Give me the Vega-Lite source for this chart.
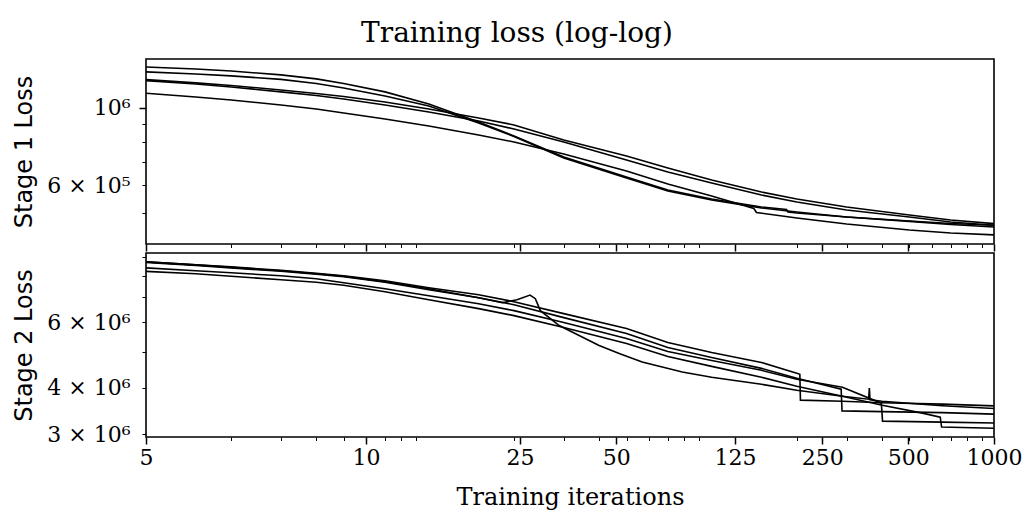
{
  "$schema": "https://vega.github.io/schema/vega-lite/v6.json",
  "background": "white",
  "padding": {"left": 11, "top": 20, "right": 5, "bottom": 5},
  "title": {
    "text": "Training loss (log-log)",
    "font": "DejaVu Serif",
    "fontSize": 28,
    "fontWeight": "normal",
    "color": "black",
    "anchor": "middle",
    "frame": "bounds",
    "offset": 10
  },
  "config": {
    "view": {"stroke": "black", "strokeWidth": 1.6},
    "axis": {
      "domain": false,
      "grid": false,
      "labelFont": "DejaVu Serif",
      "labelFontSize": 22,
      "labelColor": "black",
      "labelPadding": 3,
      "labelOverlap": false,
      "labelFlush": false,
      "tickColor": "black",
      "titleColor": "black",
      "titleFontWeight": "normal"
    }
  },
  "bounds": "flush",
  "spacing": 9,
  "datasets": {
    "stage1": [
      {"run": "a", "iter": 1, "loss": 1311000}, {"run": "a", "iter": 1.5, "loss": 1294000}, {"run": "a", "iter": 2, "loss": 1277000},
      {"run": "a", "iter": 3, "loss": 1244000}, {"run": "a", "iter": 4, "loss": 1212000}, {"run": "a", "iter": 5, "loss": 1176000},
      {"run": "a", "iter": 7, "loss": 1112000}, {"run": "a", "iter": 10, "loss": 1027000}, {"run": "a", "iter": 15, "loss": 911800},
      {"run": "a", "iter": 20, "loss": 831100}, {"run": "a", "iter": 30, "loss": 723100}, {"run": "a", "iter": 50, "loss": 634000},
      {"run": "a", "iter": 70, "loss": 581500}, {"run": "a", "iter": 100, "loss": 548000}, {"run": "a", "iter": 150, "loss": 519900},
      {"run": "a", "iter": 184, "loss": 511300}, {"run": "a", "iter": 186, "loss": 503000}, {"run": "a", "iter": 200, "loss": 499700},
      {"run": "a", "iter": 300, "loss": 486700}, {"run": "a", "iter": 500, "loss": 472500}, {"run": "a", "iter": 700, "loss": 463200},
      {"run": "a", "iter": 996, "loss": 455600},

      {"run": "b", "iter": 1, "loss": 1269000}, {"run": "b", "iter": 1.5, "loss": 1252000}, {"run": "b", "iter": 2, "loss": 1236000},
      {"run": "b", "iter": 3, "loss": 1208000}, {"run": "b", "iter": 4, "loss": 1176000}, {"run": "b", "iter": 5, "loss": 1141000},
      {"run": "b", "iter": 7, "loss": 1082500}, {"run": "b", "iter": 10, "loss": 1013300}, {"run": "b", "iter": 15, "loss": 905800},
      {"run": "b", "iter": 20, "loss": 828300}, {"run": "b", "iter": 30, "loss": 718400}, {"run": "b", "iter": 50, "loss": 629800},
      {"run": "b", "iter": 70, "loss": 577700}, {"run": "b", "iter": 100, "loss": 544400}, {"run": "b", "iter": 150, "loss": 516500},
      {"run": "b", "iter": 200, "loss": 503000}, {"run": "b", "iter": 300, "loss": 486700}, {"run": "b", "iter": 500, "loss": 474000},
      {"run": "b", "iter": 700, "loss": 466200}, {"run": "b", "iter": 996, "loss": 460700},

      {"run": "c", "iter": 1, "loss": 1206000}, {"run": "c", "iter": 1.5, "loss": 1180000}, {"run": "c", "iter": 2, "loss": 1160000},
      {"run": "c", "iter": 3, "loss": 1126000}, {"run": "c", "iter": 4, "loss": 1100600}, {"run": "c", "iter": 5, "loss": 1078900},
      {"run": "c", "iter": 7, "loss": 1040500}, {"run": "c", "iter": 10, "loss": 993400}, {"run": "c", "iter": 15, "loss": 936100},
      {"run": "c", "iter": 20, "loss": 893900}, {"run": "c", "iter": 30, "loss": 809300}, {"run": "c", "iter": 50, "loss": 727900},
      {"run": "c", "iter": 70, "loss": 672500}, {"run": "c", "iter": 100, "loss": 621600}, {"run": "c", "iter": 150, "loss": 573900},
      {"run": "c", "iter": 200, "loss": 548000}, {"run": "c", "iter": 300, "loss": 519900}, {"run": "c", "iter": 500, "loss": 493100},
      {"run": "c", "iter": 700, "loss": 477100}, {"run": "c", "iter": 996, "loss": 465600},

      {"run": "d", "iter": 1, "loss": 1198000}, {"run": "d", "iter": 1.5, "loss": 1172000}, {"run": "d", "iter": 2, "loss": 1149000},
      {"run": "d", "iter": 3, "loss": 1112000}, {"run": "d", "iter": 4, "loss": 1086000}, {"run": "d", "iter": 5, "loss": 1061000},
      {"run": "d", "iter": 7, "loss": 1020000}, {"run": "d", "iter": 10, "loss": 973900}, {"run": "d", "iter": 15, "loss": 917800},
      {"run": "d", "iter": 20, "loss": 870400}, {"run": "d", "iter": 30, "loss": 798600}, {"run": "d", "iter": 50, "loss": 709000},
      {"run": "d", "iter": 70, "loss": 655000}, {"run": "d", "iter": 100, "loss": 609400}, {"run": "d", "iter": 150, "loss": 562700},
      {"run": "d", "iter": 200, "loss": 537300}, {"run": "d", "iter": 300, "loss": 509700}, {"run": "d", "iter": 500, "loss": 486700},
      {"run": "d", "iter": 700, "loss": 470900}, {"run": "d", "iter": 996, "loss": 460700},

      {"run": "e", "iter": 1, "loss": 1102000}, {"run": "e", "iter": 1.5, "loss": 1075400}, {"run": "e", "iter": 2, "loss": 1054300},
      {"run": "e", "iter": 3, "loss": 1020000}, {"run": "e", "iter": 4, "loss": 993400}, {"run": "e", "iter": 5, "loss": 967500},
      {"run": "e", "iter": 7, "loss": 929900}, {"run": "e", "iter": 10, "loss": 887800}, {"run": "e", "iter": 15, "loss": 836600},
      {"run": "e", "iter": 20, "loss": 798600}, {"run": "e", "iter": 30, "loss": 737600}, {"run": "e", "iter": 50, "loss": 659400},
      {"run": "e", "iter": 70, "loss": 605400}, {"run": "e", "iter": 100, "loss": 559000}, {"run": "e", "iter": 141, "loss": 514800},
      {"run": "e", "iter": 144, "loss": 501400}, {"run": "e", "iter": 200, "loss": 483500}, {"run": "e", "iter": 300, "loss": 464700},
      {"run": "e", "iter": 500, "loss": 446600}, {"run": "e", "iter": 700, "loss": 437900}, {"run": "e", "iter": 996, "loss": 432200}
    ],
    "stage2": [
      {"run": "a", "iter": 1, "loss": 8719000}, {"run": "a", "iter": 1.5, "loss": 8559000}, {"run": "a", "iter": 2, "loss": 8454000},
      {"run": "a", "iter": 3, "loss": 8274000}, {"run": "a", "iter": 4, "loss": 8123000}, {"run": "a", "iter": 5, "loss": 7999000},
      {"run": "a", "iter": 7, "loss": 7757000}, {"run": "a", "iter": 10, "loss": 7430000}, {"run": "a", "iter": 15, "loss": 7115000},
      {"run": "a", "iter": 20, "loss": 6815000}, {"run": "a", "iter": 30, "loss": 6330000}, {"run": "a", "iter": 50, "loss": 5772000},
      {"run": "a", "iter": 70, "loss": 5294000}, {"run": "a", "iter": 100, "loss": 4979000}, {"run": "a", "iter": 150, "loss": 4681000},
      {"run": "a", "iter": 200, "loss": 4375000}, {"run": "a", "iter": 205, "loss": 4348000}, {"run": "a", "iter": 206, "loss": 3706000},
      {"run": "a", "iter": 290, "loss": 3683000}, {"run": "a", "iter": 400, "loss": 3649000}, {"run": "a", "iter": 654, "loss": 3616000},
      {"run": "a", "iter": 996, "loss": 3578000},

      {"run": "b", "iter": 1, "loss": 8692000}, {"run": "b", "iter": 1.5, "loss": 8533000}, {"run": "b", "iter": 2, "loss": 8402000},
      {"run": "b", "iter": 3, "loss": 8223000}, {"run": "b", "iter": 4, "loss": 8073000}, {"run": "b", "iter": 5, "loss": 7950000},
      {"run": "b", "iter": 7, "loss": 7686000}, {"run": "b", "iter": 10, "loss": 7339000}, {"run": "b", "iter": 15, "loss": 6985000},
      {"run": "b", "iter": 20, "loss": 6690000}, {"run": "b", "iter": 30, "loss": 6176000}, {"run": "b", "iter": 50, "loss": 5597000},
      {"run": "b", "iter": 70, "loss": 5134000}, {"run": "b", "iter": 100, "loss": 4828000}, {"run": "b", "iter": 150, "loss": 4512000},
      {"run": "b", "iter": 200, "loss": 4243000}, {"run": "b", "iter": 287, "loss": 3965000}, {"run": "b", "iter": 289, "loss": 3469000},
      {"run": "b", "iter": 400, "loss": 3452000}, {"run": "b", "iter": 654, "loss": 3431000}, {"run": "b", "iter": 996, "loss": 3400000},

      {"run": "c", "iter": 1, "loss": 8719000}, {"run": "c", "iter": 1.5, "loss": 8559000}, {"run": "c", "iter": 2, "loss": 8428000},
      {"run": "c", "iter": 3, "loss": 8249000}, {"run": "c", "iter": 4, "loss": 8098000}, {"run": "c", "iter": 5, "loss": 7975000},
      {"run": "c", "iter": 7, "loss": 7709000}, {"run": "c", "iter": 10, "loss": 7384000}, {"run": "c", "iter": 15, "loss": 6985000},
      {"run": "c", "iter": 18.2, "loss": 6773000}, {"run": "c", "iter": 20.5, "loss": 6900000}, {"run": "c", "iter": 22.8, "loss": 7102000},
      {"run": "c", "iter": 23.8, "loss": 6942000}, {"run": "c", "iter": 24.8, "loss": 6448000}, {"run": "c", "iter": 28.9, "loss": 5879000},
      {"run": "c", "iter": 32.9, "loss": 5597000}, {"run": "c", "iter": 40, "loss": 5198000}, {"run": "c", "iter": 47.1, "loss": 4948000},
      {"run": "c", "iter": 56.8, "loss": 4690000}, {"run": "c", "iter": 78.7, "loss": 4410000}, {"run": "c", "iter": 100, "loss": 4269000},
      {"run": "c", "iter": 150, "loss": 4089000}, {"run": "c", "iter": 200, "loss": 3941000}, {"run": "c", "iter": 290, "loss": 3798000},
      {"run": "c", "iter": 359, "loss": 3729000}, {"run": "c", "iter": 361, "loss": 3997000}, {"run": "c", "iter": 363, "loss": 3717000},
      {"run": "c", "iter": 400, "loss": 3683000}, {"run": "c", "iter": 654, "loss": 3582000}, {"run": "c", "iter": 996, "loss": 3521000},

      {"run": "d", "iter": 1, "loss": 8402000}, {"run": "d", "iter": 1.5, "loss": 8249000}, {"run": "d", "iter": 2, "loss": 8148000},
      {"run": "d", "iter": 3, "loss": 7999000}, {"run": "d", "iter": 4, "loss": 7853000}, {"run": "d", "iter": 5, "loss": 7662000},
      {"run": "d", "iter": 7, "loss": 7384000}, {"run": "d", "iter": 10, "loss": 7072000}, {"run": "d", "iter": 15, "loss": 6732000},
      {"run": "d", "iter": 20, "loss": 6448000}, {"run": "d", "iter": 30, "loss": 5989000}, {"run": "d", "iter": 50, "loss": 5428000},
      {"run": "d", "iter": 70, "loss": 5009000}, {"run": "d", "iter": 100, "loss": 4739000}, {"run": "d", "iter": 150, "loss": 4457000},
      {"run": "d", "iter": 200, "loss": 4217000}, {"run": "d", "iter": 290, "loss": 4014000}, {"run": "d", "iter": 398, "loss": 3638000},
      {"run": "d", "iter": 402, "loss": 3256000}, {"run": "d", "iter": 654, "loss": 3236000}, {"run": "d", "iter": 996, "loss": 3217000},

      {"run": "e", "iter": 1, "loss": 8223000}, {"run": "e", "iter": 1.5, "loss": 8098000}, {"run": "e", "iter": 2, "loss": 7975000},
      {"run": "e", "iter": 3, "loss": 7805000}, {"run": "e", "iter": 4, "loss": 7686000}, {"run": "e", "iter": 5, "loss": 7545000},
      {"run": "e", "iter": 7, "loss": 7249000}, {"run": "e", "iter": 10, "loss": 6900000}, {"run": "e", "iter": 15, "loss": 6528000},
      {"run": "e", "iter": 20, "loss": 6253000}, {"run": "e", "iter": 30, "loss": 5807000}, {"run": "e", "iter": 50, "loss": 5262000},
      {"run": "e", "iter": 70, "loss": 4858000}, {"run": "e", "iter": 100, "loss": 4568000}, {"run": "e", "iter": 150, "loss": 4269000},
      {"run": "e", "iter": 200, "loss": 4039000}, {"run": "e", "iter": 290, "loss": 3798000}, {"run": "e", "iter": 401, "loss": 3593000},
      {"run": "e", "iter": 556, "loss": 3420000}, {"run": "e", "iter": 643, "loss": 3337000}, {"run": "e", "iter": 650, "loss": 3139000},
      {"run": "e", "iter": 996, "loss": 3114000}
    ]
  },
  "vconcat": [
    {
      "width": 848,
      "height": 185,
      "data": {"name": "stage1"},
      "mark": {"type": "line", "color": "black", "strokeWidth": 1.6, "clip": true},
      "encoding": {
        "x": {
          "field": "iter",
          "type": "quantitative",
          "scale": {"type": "log", "domain": [1, 996], "nice": false},
          "axis": {
            "values": [1, 2, 3, 4, 5, 6, 7, 8, 9, 20, 21, 30, 40, 46, 50, 60, 70, 80, 90, 121, 200, 246, 300, 400, 496, 500, 600, 700, 800, 900, 996],
            "labels": false,
            "title": null,
            "tickSize": {"condition": {"test": "indexof([1, 6, 21, 46, 121, 246, 496, 996], datum.value) >= 0", "value": 7}, "value": 3.5},
            "tickWidth": {"condition": {"test": "indexof([1, 6, 21, 46, 121, 246, 496, 996], datum.value) >= 0", "value": 1.5}, "value": 1}
          }
        },
        "y": {
          "field": "loss",
          "type": "quantitative",
          "scale": {"type": "log", "domain": [407000, 1382000], "nice": false},
          "axis": {
            "values": [500000, 600000, 700000, 800000, 900000, 1000000],
            "labelExpr": "datum.value == 1000000 ? '10⁶' : datum.value == 600000 ? '6 × 10⁵' : ''",
            "labelPadding": {"condition": {"test": "datum.value == 1000000", "value": 9}, "value": 12},
            "tickSize": {"condition": {"test": "datum.value == 1000000", "value": 7}, "value": 4},
            "tickWidth": {"condition": {"test": "datum.value == 1000000", "value": 1.5}, "value": 1},
            "title": "Stage 1 Loss",
            "titleFont": "DejaVu Sans",
            "titleFontSize": 24,
            "titleAngle": -90,
            "titleAlign": "center",
            "titleBaseline": "middle",
            "titleX": -122,
            "titleY": 92.5
          }
        },
        "detail": {"field": "run"}
      }
    },
    {
      "width": 848,
      "height": 184,
      "data": {"name": "stage2"},
      "mark": {"type": "line", "color": "black", "strokeWidth": 1.6, "clip": true},
      "encoding": {
        "x": {
          "field": "iter",
          "type": "quantitative",
          "scale": {"type": "log", "domain": [1, 996], "nice": false},
          "axis": {
            "values": [1, 2, 3, 4, 5, 6, 7, 8, 9, 20, 21, 30, 40, 46, 50, 60, 70, 80, 90, 121, 200, 246, 300, 400, 496, 500, 600, 700, 800, 900, 996],
            "labelExpr": "indexof([1, 6, 21, 46, 121, 246, 496, 996], datum.value) >= 0 ? format(datum.value + 4, 'd') : ''",
            "tickSize": {"condition": {"test": "indexof([1, 6, 21, 46, 121, 246, 496, 996], datum.value) >= 0", "value": 7}, "value": 3.5},
            "tickWidth": {"condition": {"test": "indexof([1, 6, 21, 46, 121, 246, 496, 996], datum.value) >= 0", "value": 1.5}, "value": 1},
            "title": "Training iterations",
            "titleFont": "DejaVu Serif",
            "titleFontSize": 24,
            "titleAlign": "center",
            "titleBaseline": "alphabetic",
            "titleX": 424,
            "titleY": 67
          }
        },
        "y": {
          "field": "loss",
          "type": "quantitative",
          "scale": {"type": "log", "domain": [2951000, 9210000], "nice": false},
          "axis": {
            "values": [3000000, 4000000, 5000000, 6000000, 7000000, 8000000, 9000000],
            "labelExpr": "datum.value == 3000000 ? '3 × 10⁶' : datum.value == 4000000 ? '4 × 10⁶' : datum.value == 6000000 ? '6 × 10⁶' : ''",
            "labelPadding": 12,
            "tickSize": 4,
            "tickWidth": 1,
            "title": "Stage 2 Loss",
            "titleFont": "DejaVu Sans",
            "titleFontSize": 24,
            "titleAngle": -90,
            "titleAlign": "center",
            "titleBaseline": "middle",
            "titleX": -122,
            "titleY": 92
          }
        },
        "detail": {"field": "run"}
      }
    }
  ]
}
